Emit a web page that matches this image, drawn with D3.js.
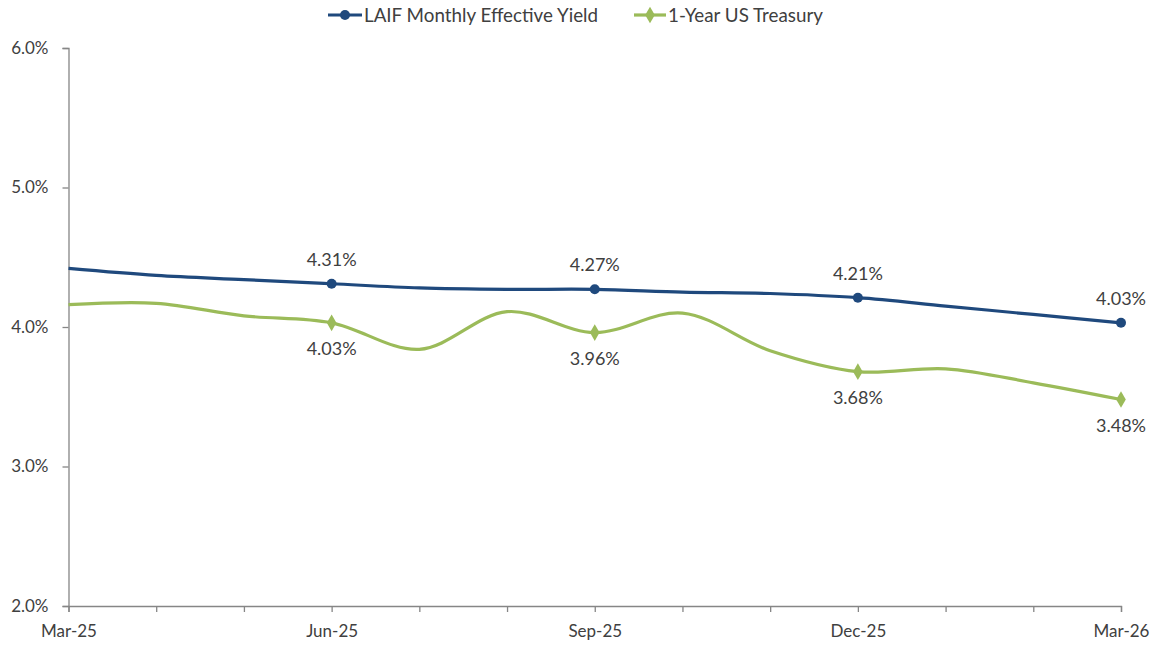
<!DOCTYPE html>
<html><head><meta charset="utf-8">
<script src="https://cdn.jsdelivr.net/npm/d3@7"></script>
<style>body{margin:0;background:#fff;} text{font-family:"Lato","Liberation Sans",sans-serif;}</style>
</head><body>
<svg id="c" width="1158" height="645"></svg>
<script>
const months = ["Mar-25","Apr-25","May-25","Jun-25","Jul-25","Aug-25","Sep-25","Oct-25","Nov-25","Dec-25","Jan-26","Feb-26","Mar-26"];
const tickLabels = ["Mar-25","Jun-25","Sep-25","Dec-25","Mar-26"];
const laif = [4.42,4.37,4.34,4.31,4.28,4.27,4.27,4.25,4.24,4.21,4.15,4.09,4.03];
const treasury = [4.16,4.17,4.08,4.03,3.84,4.11,3.96,4.10,3.83,3.68,3.70,3.60,3.48];
const labeledMonths = ["Jun-25","Sep-25","Dec-25","Mar-26"];
const yTicks = [2,3,4,5,6];
const seriesNames = ["LAIF Monthly Effective Yield","1-Year US Treasury"];

const svg = d3.select("#c");
const x = d3.scalePoint().domain(months).range([68.5,1121]);
const y = d3.scaleLinear().domain([2,6]).range([606,48]);
const axisColor = "#868686", textColor = "#404040";
const blue = "#1F497D", green = "#9BBB59";
const FONT = "Lato, Liberation Sans, sans-serif";

// y axis
const ya = svg.append("g").attr("transform","translate(68.5,0)")
  .call(d3.axisLeft(y).tickValues(yTicks).tickFormat(d=>d.toFixed(1)+"%").tickSize(6).tickPadding(14));
ya.select(".domain").attr("stroke",axisColor).attr("stroke-width",1.3);
ya.selectAll(".tick line").attr("stroke",axisColor).attr("stroke-width",1.3);
ya.selectAll("text").attr("fill",textColor).style("font-size","17px").style("font-family",FONT);

// x axis
const xa = svg.append("g").attr("transform","translate(0,606)")
  .call(d3.axisBottom(x).tickValues(months).tickFormat(d=>tickLabels.includes(d)?d:"").tickSize(6).tickPadding(13));
xa.select(".domain").attr("stroke",axisColor).attr("stroke-width",1.3);
xa.selectAll(".tick line").attr("stroke",axisColor).attr("stroke-width",1.3);
xa.selectAll("text").attr("fill",textColor).style("font-size","17px").style("font-family",FONT);

const line = d3.line().x((d,i)=>x(months[i])).y(d=>y(d)).curve(d3.curveCatmullRom.alpha(0.5));

svg.append("path").datum(treasury).attr("d",line).attr("fill","none").attr("stroke",green).attr("stroke-width",3.2);
svg.append("path").datum(laif).attr("d",line).attr("fill","none").attr("stroke",blue).attr("stroke-width",3.2);

const diamond = d3.symbol().type(d3.symbolDiamond).size(80);
const fmt = d=>d.toFixed(2)+"%";

months.forEach((m,i)=>{
  if(!labeledMonths.includes(m)) return;
  svg.append("path").attr("d",diamond).attr("transform",`translate(${x(m)},${y(treasury[i])})`).attr("fill",green);
  svg.append("circle").attr("cx",x(m)).attr("cy",y(laif[i])).attr("r",5).attr("fill",blue);
  svg.append("text").attr("x",x(m)).attr("y",y(laif[i])-18).attr("text-anchor","middle")
    .attr("fill",textColor).style("font-size","18px").style("font-family",FONT).text(fmt(laif[i]));
  svg.append("text").attr("x",x(m)).attr("y",y(treasury[i])+32).attr("text-anchor","middle")
    .attr("fill",textColor).style("font-size","18px").style("font-family",FONT).text(fmt(treasury[i]));
});

// legend
const lg = svg.append("g");
const items = [{name:seriesNames[0],color:blue,x0:328,tx:364,shape:"circle"},{name:seriesNames[1],color:green,x0:634,tx:668,shape:"diamond"}];
items.forEach(it=>{
  lg.append("line").attr("x1",it.x0).attr("x2",it.tx-2).attr("y1",15).attr("y2",15).attr("stroke",it.color).attr("stroke-width",3.2);
  const cx=(it.x0+it.tx-2)/2;
  if(it.shape==="circle") lg.append("circle").attr("cx",cx).attr("cy",15).attr("r",5).attr("fill",it.color);
  else lg.append("path").attr("d",diamond).attr("transform",`translate(${cx},15)`).attr("fill",it.color);
  lg.append("text").attr("x",it.tx).attr("y",21.5).attr("fill",textColor).style("font-size","18.8px").style("font-family",FONT).text(it.name);
});
</script>
</body></html>
